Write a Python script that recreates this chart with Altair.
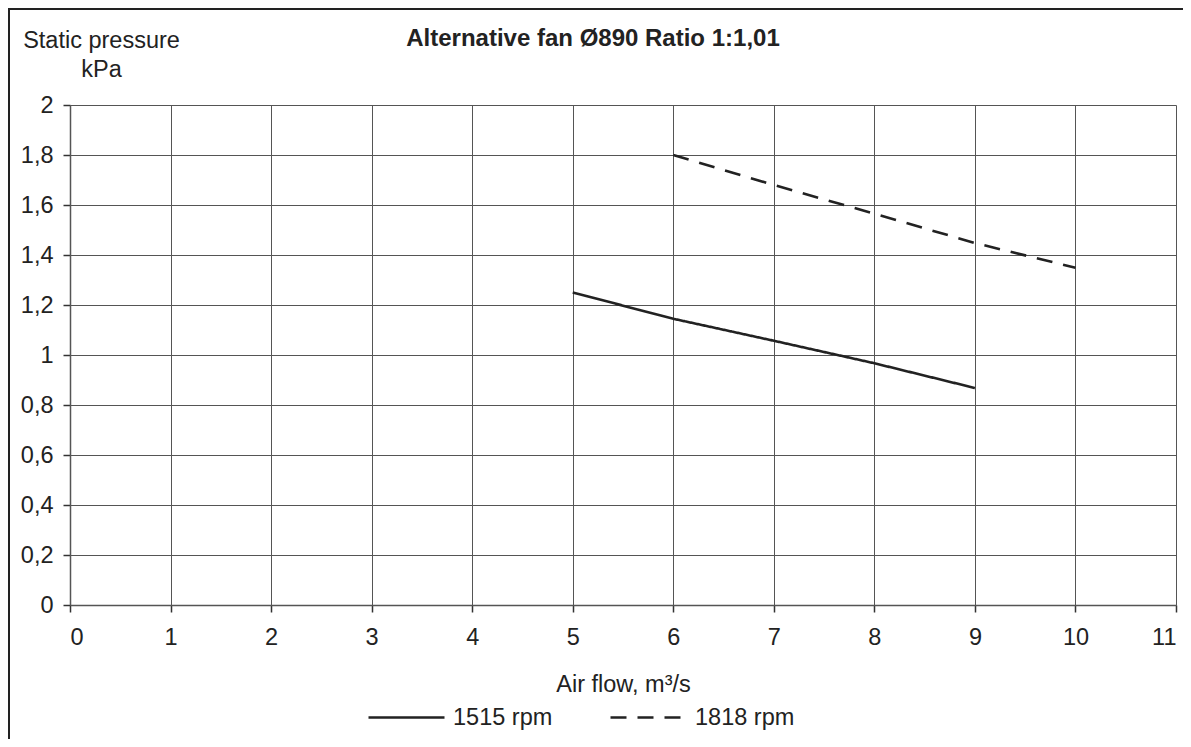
import altair as alt
import pandas as pd

# Data
flow_1515 = [5, 6, 7, 8, 9]
pressure_1515 = [1.25, 1.145, 1.057, 0.967, 0.868]
flow_1818 = [6, 7, 8, 9, 10]
pressure_1818 = [1.80, 1.68, 1.565, 1.448, 1.349]
series_names = ["1515 rpm", "1818 rpm"]
x_ticks = [0, 1, 2, 3, 4, 5, 6, 7, 8, 9, 10, 11]
y_ticks = [0, 0.2, 0.4, 0.6, 0.8, 1, 1.2, 1.4, 1.6, 1.8, 2]

rows = []
for x, y in zip(flow_1515, pressure_1515):
    rows.append({"flow": x, "pressure": y, "series": series_names[0]})
for x, y in zip(flow_1818, pressure_1818):
    rows.append({"flow": x, "pressure": y, "series": series_names[1]})
df = pd.DataFrame(rows)

FONT = "Liberation Sans"
INK = "#222222"
FS = 23.5
W, H = 1106, 500

lines = alt.Chart(df).mark_line(strokeWidth=2.6, color=INK).encode(
    x=alt.X("flow:Q",
            scale=alt.Scale(domain=[0, 11], nice=False, zero=False),
            axis=alt.Axis(values=x_ticks, title="Air flow, m³/s",
                          titleFontSize=FS, titleFontWeight="normal",
                          titlePadding=24, labelPadding=13)),
    y=alt.Y("pressure:Q",
            scale=alt.Scale(domain=[0, 2], nice=False),
            axis=alt.Axis(values=y_ticks,
                          labelExpr="replace(toString(datum.value), '.', ',')",
                          title=["Static pressure", "kPa"],
                          titleAngle=0, titleAlign="center",
                          titleBaseline="alphabetic",
                          titleX=31, titleY=-58, titleLineHeight=29,
                          titleFontSize=FS, titleFontWeight="normal",
                          labelPadding=10)),
    strokeDash=alt.StrokeDash(
        "series:N",
        scale=alt.Scale(domain=series_names, range=[[1, 0], [16, 11]]),
        legend=alt.Legend(title=None, orient="none", direction="horizontal",
                          legendX=297, legendY=573, symbolType="stroke",
                          symbolSize=5776, symbolStrokeWidth=2.6,
                          symbolStrokeColor=INK, labelOffset=7,
                          columnPadding=52, padding=0,
                          labelFontSize=FS, labelFont=FONT, labelColor=INK)),
)

frame = alt.Chart(pd.DataFrame({"f": [0]})).mark_rect(
    fill="transparent", stroke=INK, strokeWidth=2, clip=False
).encode(
    x=alt.value(-61), x2=alt.value(W + 200),
    y=alt.value(-96), y2=alt.value(H + 300),
)

chart = alt.layer(frame, lines).properties(
    width=W, height=H,
    background="white",
    autosize=alt.AutoSizeParams(type="none"),
    padding={"left": 62, "top": 97, "right": 7, "bottom": 134},
    title=alt.TitleParams("Alternative fan Ø890 Ratio 1:1,01",
                          fontSize=24, fontWeight="bold", font=FONT,
                          color=INK, anchor="middle", frame="group",
                          baseline="alphabetic", offset=-62, dx=-30),
).configure_view(stroke=None).configure_axis(
    labelFont=FONT, titleFont=FONT, labelFontSize=FS, labelColor=INK,
    titleColor=INK, grid=True, gridColor="#555555", gridWidth=1,
    domainColor="#555555", domainWidth=1.5, tickColor="#333333",
    tickSize=7, tickWidth=1.5,
)

chart.save("out.html", embed_options={"renderer": "svg", "actions": False})
